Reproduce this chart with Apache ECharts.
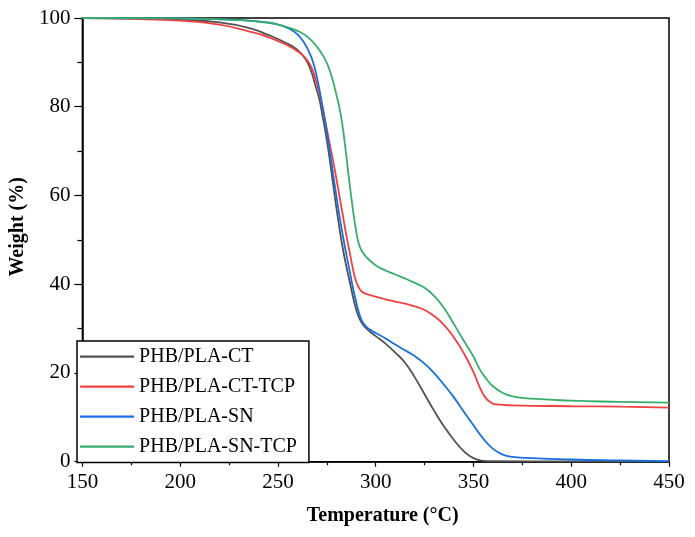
<!DOCTYPE html>
<html>
<head>
<meta charset="utf-8">
<script src="https://cdn.jsdelivr.net/npm/echarts@6/dist/echarts.min.js"></script>
<style>html,body{margin:0;padding:0;background:#fff}#c{width:695px;height:537px}</style>
</head>
<body>
<div id="c"></div>
<script>
const seriesNames = ['PHB/PLA-CT', 'PHB/PLA-CT-TCP', 'PHB/PLA-SN', 'PHB/PLA-SN-TCP'];
const xTicks = [150, 200, 250, 300, 350, 400, 450];
const yTicks = [0, 20, 40, 60, 80, 100];

const ct = [[150,100],[175,99.9],[200,99.6],[220,99.0],[235,97.8],[245,96.2],[255,94.2],[260,92.8],[264,90.8],[267,88],[269,85],[271,82],[273,77.5],[275,72.5],[277,66.5],[279,60],[281,54],[283,48.5],[285,44],[287,40],[289,36],[291,33],[293,31.2],[296,29.7],[300,28.3],[305,26.6],[310,24.6],[315,22.3],[320,19.0],[325,15.2],[330,11.4],[335,7.9],[340,4.9],[345,2.4],[350,0.8],[355,0.2],[360,0.1],[400,0.05],[450,0]];
const ctTcp = [[150,100],[175,99.8],[200,99.4],[220,98.5],[235,97.0],[245,95.7],[255,93.8],[260,92.5],[264,91],[267,89],[269,86.5],[271,83.5],[273,79.5],[275,75],[277,70.5],[279,66],[281,61],[283,56],[285,51],[287,46.5],[289,42.2],[291,39.5],[293,38.3],[296,37.7],[300,37.2],[305,36.6],[310,36.1],[315,35.6],[320,35],[325,34.2],[330,32.8],[335,30.8],[340,28],[345,24.5],[350,20.2],[353,17],[356,14.5],[359,13.3],[362,12.9],[370,12.7],[400,12.5],[425,12.4],[450,12.2]];
const sn = [[150,100],[200,99.9],[230,99.6],[245,99.0],[252,98.3],[257,97.3],[260,96.3],[263,94.7],[266,92.3],[268,90],[270,86.5],[272,82],[274,77],[276,71.5],[278,65.5],[280,59.5],[282,54],[284,49],[286,44.5],[288,40],[290,36],[292,32.8],[294,31],[297,29.8],[300,29],[305,27.8],[310,26.4],[315,25.1],[320,23.8],[325,22.1],[330,19.9],[335,17.3],[340,14.5],[345,11.3],[350,8.2],[355,5.2],[360,2.9],[365,1.6],[370,1.1],[380,0.8],[400,0.5],[425,0.3],[450,0.15]];
const snTcp = [[150,100],[200,99.9],[230,99.5],[245,98.9],[255,97.9],[260,97.1],[265,95.8],[270,93.5],[274,90.8],[277,87.5],[280,82.5],[282,78.5],[284,72.5],[286,65],[288,58],[290,52],[292,48.3],[295,46.2],[300,44.3],[305,43.1],[310,42.2],[315,41.3],[320,40.3],[325,39.2],[330,37.3],[335,34.6],[340,31],[345,27.3],[350,23.7],[353,21],[356,19],[360,17],[365,15.5],[370,14.7],[380,14.2],[400,13.75],[425,13.5],[450,13.3]];

const colors = ['#515151', '#F14040', '#1A6FDF', '#37AD6B'];
const allData = [ct, ctTcp, sn, snTcp];
const FONT = 'Liberation Serif';

const chart = echarts.init(document.getElementById('c'), null, {renderer: 'canvas'});
chart.setOption({
  animation: false,
  backgroundColor: '#fff',
  color: colors,
  grid: {left: 77, right: 26, top: 18, bottom: 75.3, show: true, borderColor: '#000', borderWidth: 1.5, backgroundColor: 'transparent'},
  legend: {
    orient: 'vertical', left: 77, top: 341,
    padding: [5.7, 12, 5.7, 2],
    itemWidth: 54, itemHeight: 20, itemGap: 10,
    borderColor: '#000', borderWidth: 1.5, backgroundColor: '#fff',
    itemStyle: {opacity: 0},
    lineStyle: {width: 2.2},
    textStyle: {fontFamily: FONT, fontSize: 20, color: '#000', lineHeight: 20},
    data: seriesNames
  },
  xAxis: {
    type: 'value', min: xTicks[0], max: xTicks[xTicks.length-1], interval: 50,
    name: 'Temperature (°C)', nameLocation: 'middle', nameGap: 44,
    nameTextStyle: {fontFamily: FONT, fontSize: 20, fontWeight: 'bold', color: '#000', padding: [0,0,0,14]},
    axisLine: {show: true, lineStyle: {color: '#000', width: 1.5}},
    axisTick: {show: true, inside: false, length: 5, lineStyle: {color: '#000', width: 1.2}},
    minorTick: {show: true, splitNumber: 2, length: 3.5, lineStyle: {color: '#000', width: 1.2}},
    axisLabel: {fontFamily: FONT, fontSize: 21, color: '#000', margin: 10},
    splitLine: {show: false}
  },
  yAxis: {
    type: 'value', min: yTicks[0], max: yTicks[yTicks.length-1], interval: 20,
    name: 'Weight (%)', nameLocation: 'middle', nameGap: 42, nameRotate: 90,
    nameTextStyle: {fontFamily: FONT, fontSize: 20, fontWeight: 'bold', color: '#000', padding: [0,0,0,26]},
    axisLine: {show: true, lineStyle: {color: '#000', width: 1.5}},
    axisTick: {show: true, inside: false, length: 8, lineStyle: {color: '#000', width: 1.2}},
    minorTick: {show: true, splitNumber: 2, length: 5, lineStyle: {color: '#000', width: 1.2}},
    axisLabel: {fontFamily: FONT, fontSize: 21, color: '#000', margin: 12},
    splitLine: {show: false}
  },
  series: seriesNames.map((n, i) => ({
    name: n, type: 'line', data: allData[i], symbol: 'none', smooth: 0.5,
    lineStyle: {width: 1.8, color: colors[i]}, itemStyle: {color: colors[i]}, z: 2 + i
  }))
});
</script>
</body>
</html>
